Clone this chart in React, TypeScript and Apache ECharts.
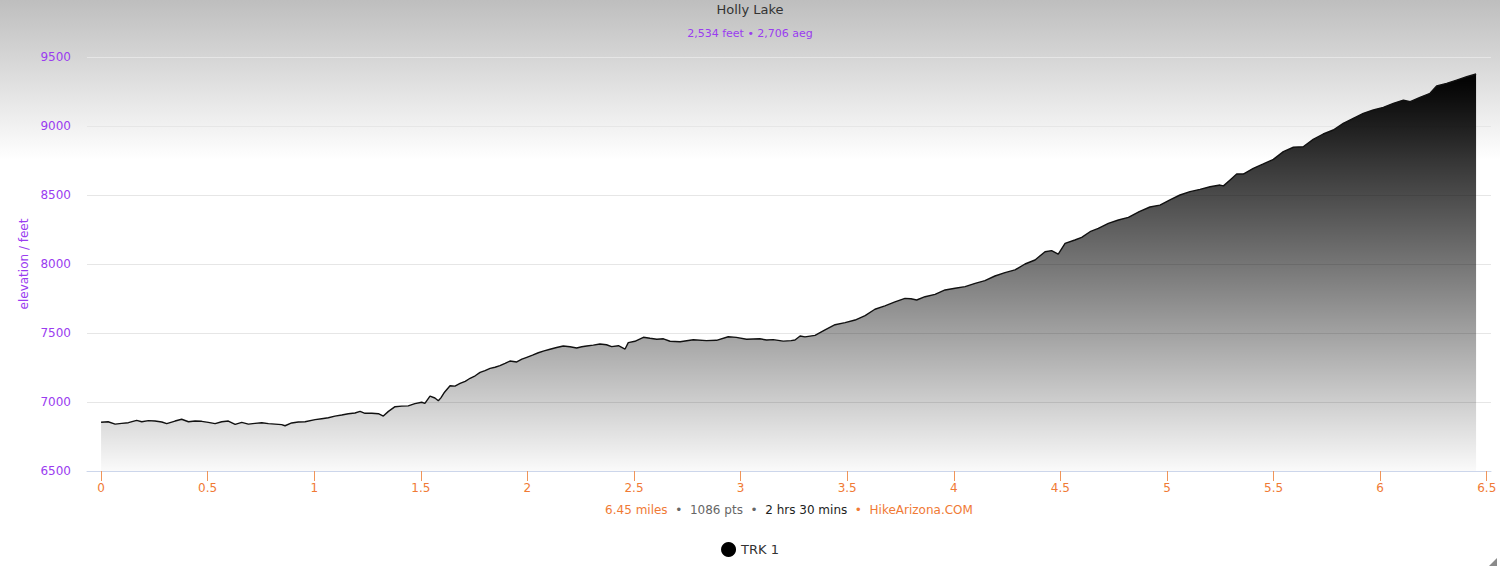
import React, { useEffect, useRef } from "react";
import * as echarts from "echarts";

const titleText = "Holly Lake";
const subtitleText = "2,534 feet • 2,706 aeg";
const yAxisTitle = "elevation / feet";
const seriesName = "TRK 1";
const footerMiles = "6.45 miles";
const footerPts = "1086 pts";
const footerTime = "2 hrs 30 mins";
const footerSite = "HikeArizona.COM";

const xTicks = [0, 0.5, 1, 1.5, 2, 2.5, 3, 3.5, 4, 4.5, 5, 5.5, 6, 6.5];

const distances = [
  0, 0.033, 0.066, 0.097, 0.128, 0.167, 0.191, 0.222, 0.253, 0.285, 0.308, 0.347, 0.378, 0.41, 0.441,
  0.472, 0.503, 0.535, 0.566, 0.597, 0.629, 0.66, 0.691, 0.722, 0.754, 0.785, 0.816, 0.847, 0.863, 0.894,
  0.925, 0.957, 1.004, 1.035, 1.066, 1.097, 1.129, 1.16, 1.191, 1.215, 1.238, 1.27, 1.301, 1.324, 1.348,
  1.379, 1.41, 1.441, 1.472, 1.504, 1.519, 1.543, 1.566, 1.582, 1.594, 1.609, 1.637, 1.66, 1.684, 1.708,
  1.731, 1.755, 1.778, 1.801, 1.825, 1.848, 1.871, 1.895, 1.918, 1.95, 1.974, 1.997, 2.024, 2.051, 2.078,
  2.106, 2.137, 2.168, 2.2, 2.231, 2.255, 2.278, 2.309, 2.34, 2.371, 2.395, 2.427, 2.458, 2.473, 2.504,
  2.544, 2.575, 2.607, 2.638, 2.669, 2.716, 2.778, 2.84, 2.887, 2.942, 2.98, 3.028, 3.09, 3.122, 3.153,
  3.2, 3.237, 3.255, 3.279, 3.302, 3.349, 3.396, 3.443, 3.49, 3.537, 3.584, 3.63, 3.677, 3.724, 3.771,
  3.799, 3.826, 3.865, 3.912, 3.959, 4.006, 4.053, 4.1, 4.146, 4.193, 4.24, 4.287, 4.334, 4.381, 4.428,
  4.459, 4.49, 4.522, 4.568, 4.6, 4.639, 4.678, 4.725, 4.772, 4.819, 4.87, 4.92, 4.967, 5.014, 5.061,
  5.108, 5.155, 5.202, 5.249, 5.265, 5.296, 5.327, 5.358, 5.405, 5.452, 5.499, 5.546, 5.593, 5.639, 5.686,
  5.733, 5.78, 5.827, 5.874, 5.921, 5.968, 6.015, 6.062, 6.109, 6.141, 6.187, 6.234, 6.265, 6.312, 6.359,
  6.406, 6.45,
];

const elevations = [
  6853, 6857, 6840, 6845, 6850, 6867, 6857, 6865, 6862, 6855, 6843, 6862, 6875, 6857, 6862,
  6860, 6852, 6843, 6857, 6862, 6838, 6852, 6840, 6845, 6850, 6843, 6840, 6836, 6828, 6848,
  6855, 6857, 6872, 6879, 6886, 6898, 6906, 6915, 6920, 6932, 6918, 6918, 6915, 6898, 6932,
  6966, 6970, 6972, 6988, 6998, 6990, 7043, 7029, 7009, 7030, 7067, 7118, 7115, 7135, 7150,
  7172, 7190, 7215, 7228, 7244, 7252, 7263, 7280, 7297, 7290, 7310, 7324, 7340, 7357, 7370,
  7382, 7395, 7406, 7400, 7391, 7400, 7406, 7412, 7420, 7415, 7401, 7408, 7384, 7430, 7440,
  7469, 7462, 7455, 7458, 7440, 7437, 7451, 7445, 7447, 7473, 7468, 7455, 7458, 7449, 7452,
  7441, 7445, 7449, 7478, 7472, 7483, 7522, 7560, 7575, 7594, 7626, 7672, 7696, 7725, 7751,
  7748, 7739, 7763, 7780, 7812, 7824, 7836, 7860, 7879, 7913, 7937, 7957, 8000, 8029, 8089,
  8097, 8072, 8150, 8174, 8193, 8234, 8258, 8295, 8319, 8338, 8380, 8413, 8427, 8464, 8500,
  8524, 8541, 8560, 8572, 8566, 8609, 8652, 8652, 8693, 8725, 8758, 8814, 8846, 8850, 8903,
  8942, 8971, 9019, 9056, 9092, 9116, 9135, 9164, 9188, 9176, 9208, 9237, 9290, 9309, 9333,
  9357, 9377,
];

const PURPLE = "#9a3cf0";
const ORANGE = "#f07a35";
const FONT = "'DejaVu Sans', 'Noto Sans', sans-serif";

export default function App() {
  const ref = useRef<HTMLDivElement>(null);

  useEffect(() => {
    document.body.style.margin = "0";
    if (!ref.current) return;
    const chart = echarts.init(ref.current, null, { renderer: "svg" });
    const data = distances.map((d, i) => [d, elevations[i]]);

    chart.setOption({
      animation: false,
      textStyle: { fontFamily: FONT },
      title: {
        text: titleText,
        subtext: subtitleText,
        left: "center",
        top: -2,
        itemGap: 12,
        textStyle: { fontSize: 13, fontWeight: "normal", color: "#333333", fontFamily: FONT },
        subtextStyle: { fontSize: 11, color: PURPLE, fontFamily: FONT },
      },
      legend: {
        data: [{ name: seriesName, icon: "circle" }],
        left: "center",
        top: 537,
        itemWidth: 15,
        itemHeight: 15,
        itemGap: 10,
        textStyle: { fontSize: 13, color: "#333333", fontFamily: FONT },
      },
      grid: {
        left: 87,
        right: 9,
        top: 57,
        bottom: 97,
        containLabel: false,
        outerBoundsMode: "none",
      },
      xAxis: {
        type: "value",
        min: -0.066,
        max: 6.52,
        name:
          "{o|" + footerMiles + "}{g|  •  " + footerPts + "  •  }{k|" + footerTime + "}{o|  •  " + footerSite + "}",
        nameLocation: "middle",
        nameGap: 33,
        nameTextStyle: {
          fontSize: 12,
          fontFamily: FONT,
          rich: {
            o: { color: ORANGE, fontSize: 12, fontFamily: FONT },
            g: { color: "#666666", fontSize: 12, fontFamily: FONT },
            k: { color: "#222222", fontSize: 12, fontFamily: FONT },
          },
        },
        axisLine: { show: true, lineStyle: { color: "#ccd6eb", width: 1 } },
        axisTick: {
          show: true,
          length: 10,
          customValues: xTicks,
          lineStyle: { color: "#f0955a", width: 1 },
        },
        axisLabel: {
          customValues: xTicks,
          color: ORANGE,
          fontSize: 12,
          margin: 11,
          fontFamily: FONT,
          formatter: (v: number) => String(v),
        },
        splitLine: { show: false },
      },
      yAxis: {
        type: "value",
        min: 6500,
        max: 9500,
        interval: 500,
        name: yAxisTitle,
        nameLocation: "middle",
        nameGap: 56,
        nameRotate: 90,
        nameTextStyle: { color: PURPLE, fontSize: 12, fontFamily: FONT },
        axisLine: { show: false },
        axisTick: { show: false },
        axisLabel: {
          color: PURPLE,
          fontSize: 12,
          margin: 16,
          fontFamily: FONT,
          formatter: (v: number) => String(v),
        },
        splitLine: { show: true, lineStyle: { color: "#e6e6e6", width: 1 } },
      },
      series: [
        {
          name: seriesName,
          type: "line",
          data,
          showSymbol: false,
          symbol: "circle",
          color: "#000000",
          itemStyle: { color: "#000000" },
          lineStyle: { color: "#111111", width: 1.4 },
          areaStyle: {
            opacity: 1,
            color: new echarts.graphic.LinearGradient(0, 0, 0, 1, [
              { offset: 0, color: "rgba(0,0,0,1)" },
              { offset: 0.25, color: "rgba(0,0,0,0.76)" },
              { offset: 0.5, color: "rgba(0,0,0,0.52)" },
              { offset: 0.75, color: "rgba(0,0,0,0.27)" },
              { offset: 1, color: "rgba(0,0,0,0.02)" },
            ]),
          },
        },
      ],
      graphic: [
        {
          type: "polygon",
          shape: { points: [[1497, 558], [1497, 566], [1489, 566]] },
          style: { fill: "#8a8a8a" },
        },
      ],
    });

    return () => chart.dispose();
  }, []);

  return (
    <div
      ref={ref}
      style={{
        position: "absolute",
        left: 0,
        top: 0,
        width: 1500,
        height: 568,
        background: "linear-gradient(to bottom, #bebebe 0px, #ffffff 160px, #ffffff 568px)",
      }}
    />
  );
}
